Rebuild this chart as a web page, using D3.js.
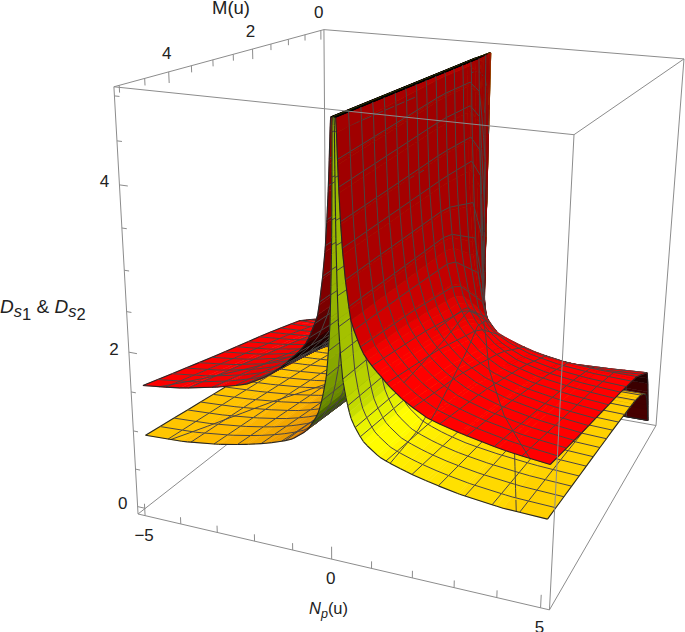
<!DOCTYPE html>
<html>
<head>
<meta charset="utf-8">
<script src="https://cdn.jsdelivr.net/npm/d3@7"></script>
<style>
  body { margin: 0; background: #fff; }
  text { font-family: "Liberation Sans", Arial, sans-serif; fill: #222; }
</style>
</head>
<body>
<svg id="chart" width="685" height="632"></svg>
<script>
// values: height by |Np| (columns) and M (rows)
const npColumns = [0.02, 0.05, 0.1, 0.2, 0.4, 0.7, 1.1, 1.6, 2.2, 3, 4, 5];
const mRows = [0, 0.05, 0.1, 0.2, 0.3, 0.6, 1, 2, 3.5, 5];
const redHeights = [
  [0, 0, 0, 0, 0, 0, 0, 0, 0, 0, 0, 0],
  [1.0, 0.9, 0.8, 0.7, 0.6, 0.5, 0.42, 0.36, 0.3, 0.25, 0.2, 0.18],
  [5.2, 1.8, 1.0, 0.8, 0.7, 0.62, 0.55, 0.48, 0.42, 0.38, 0.36, 0.35],
  [5.4, 3.8, 1.3, 1.0, 0.9, 0.82, 0.76, 0.7, 0.65, 0.64, 0.64, 0.64],
  [5.5, 4.4, 3.5, 1.1, 1.0, 0.95, 0.88, 0.82, 0.8, 0.79, 0.81, 0.84],
  [5.6, 5.2, 4.5, 3.4, 1.5, 1.15, 1.02, 0.98, 0.92, 0.9, 0.9, 0.93],
  [5.6, 5.3, 4.7, 3.7, 2.4, 1.6, 1.35, 1.25, 1.16, 1.09, 1.05, 1.04],
  [5.6, 5.3, 4.7, 3.7, 2.8, 2.2, 1.85, 1.58, 1.4, 1.29, 1.22, 1.18],
  [5.6, 5.3, 4.6, 3.65, 2.8, 2.35, 2.07, 1.84, 1.66, 1.52, 1.42, 1.36],
  [5.6, 5.3, 4.5, 3.6, 2.8, 2.44, 2.22, 2.0, 1.83, 1.72, 1.62, 1.56],
];
const yellowHeights = [
  [0, 0, 0, 0, 0, 0, 0, 0, 0, 0, 0, 0],
  [1.0, 0.7, 0.5, 0.4, 0.32, 0.27, 0.2, 0.16, 0.13, 0.12, 0.11, 0.1],
  [5, 1.6, 0.8, 0.55, 0.45, 0.38, 0.32, 0.28, 0.25, 0.24, 0.23, 0.23],
  [5.2, 3, 1.2, 0.75, 0.6, 0.52, 0.48, 0.45, 0.43, 0.42, 0.42, 0.42],
  [5.3, 3.4, 2.2, 0.95, 0.72, 0.62, 0.57, 0.54, 0.53, 0.52, 0.52, 0.52],
  [5.4, 3.7, 2.7, 2.0, 1.1, 0.82, 0.72, 0.67, 0.65, 0.64, 0.63, 0.63],
  [5.4, 3.7, 2.75, 2.1, 1.45, 1.1, 0.9, 0.8, 0.75, 0.72, 0.7, 0.69],
  [5.4, 3.7, 2.75, 2.1, 1.6, 1.28, 1.07, 0.96, 0.88, 0.82, 0.78, 0.76],
  [5.4, 3.7, 2.75, 2.1, 1.62, 1.33, 1.16, 1.06, 0.98, 0.92, 0.87, 0.84],
  [5.4, 3.7, 2.75, 2.1, 1.65, 1.4, 1.25, 1.16, 1.08, 1.0, 0.94, 0.92],
];
const meshM = [0.3125, 0.625, 0.9375, 1.25, 1.5625, 1.875, 2.1875, 2.5, 2.8125, 3.125, 3.4375, 3.75, 4.0625, 4.375, 4.6875];
const redMeshNp = [0.095, 0.12, 0.16, 0.2, 0.27, 0.35, 0.47, 0.625, 0.9, 1.25, 1.875, 2.5, 3.125, 3.75, 4.375];
const yellowMeshNp = [0.027, 0.035, 0.045, 0.053, 0.065, 0.08, 0.105, 0.145, 0.2, 0.32, 0.5, 0.625, 1.25, 1.875, 2.5, 3.125, 3.75, 4.375];
// the extra crossing curves on the flat parts, as [|Np|, M] knots
const redFanLines = [
  [[4.55, 5], [3.3, 4], [2.1, 2.8], [0.95, 1.4]],
  [[2.3, 5], [1.8, 3.6], [1.35, 2.4], [0.85, 1.1]],
  [[0.95, 3.2], [0.9, 2.4], [0.85, 1.5], [0.75, 0.9]],
  [[1.4, 4.7], [1.2, 3.4], [1.0, 2.4], [0.85, 1.5]],
];
const yellowFanLines = [
  [[4.3, 5], [3.2, 3.4], [2.4, 2.5]],
  [[1.35, 5], [1.2, 4], [0.9, 3]],
];
const npTicks = [-5, -4, -3, -2, -1, 0, 1, 2, 3, 4, 5];
const npLabels = [-5, 0, 5];
const mTicks = [0, 0.5, 1, 1.5, 2, 2.5, 3, 3.5, 4, 4.5, 5];
const mLabels = [0, 2, 4];
const zTicks = [0, 0.5, 1, 1.5, 2, 2.5, 3, 3.5, 4, 4.5, 5];
const zLabels = [0, 2, 4];

const npRange = [-5.2, 5.2];
const mRange = [-0.1, 5.1];
const zRange = [-0.1, 5.1];
const zCap = 5;

const svg = d3.select('#chart');

const uScale = d3.scaleLinear().domain(npRange).range([0, 1]);
const vScale = d3.scaleLinear().domain(mRange).range([0, 1]);
const wScale = d3.scaleLinear().domain(zRange).range([0, 1]);

// the box corners on the page, used to fit the perspective
const cornerFit = [
  [npRange[0], mRange[1], zRange[0], 135, 516],
  [npRange[1], mRange[1], zRange[0], 549, 607],
  [npRange[1], mRange[0], zRange[0], 655, 429],
  [npRange[0], mRange[0], zRange[0], 330, 364],
  [npRange[0], mRange[1], zRange[1], 116, 88],
  [npRange[1], mRange[1], zRange[1], 576, 134],
  [npRange[1], mRange[0], zRange[1], 684, 58],
  [npRange[0], mRange[0], zRange[1], 321, 30],
];

const solve = (A, b) => {
  const n = b.length;
  const M = A.map((row, i) => [...row, b[i]]);
  for (let i = 0; i < n; i++) {
    let p = i;
    for (let k = i + 1; k < n; k++) if (Math.abs(M[k][i]) > Math.abs(M[p][i])) p = k;
    [M[i], M[p]] = [M[p], M[i]];
    for (let k = i + 1; k < n; k++) {
      const f = M[k][i] / M[i][i];
      for (let j = i; j <= n; j++) M[k][j] -= f * M[i][j];
    }
  }
  const x = new Array(n).fill(0);
  for (let i = n - 1; i >= 0; i--) {
    let s = M[i][n];
    for (let j = i + 1; j < n; j++) s -= M[i][j] * x[j];
    x[i] = s / M[i][i];
  }
  return x;
};

const fitProjection = () => {
  const rows = [];
  const rhs = [];
  for (const [np, m, z, sx, sy] of cornerFit) {
    const u = uScale(np), v = vScale(m), w = wScale(z);
    const x = sx / 100, y = sy / 100;
    rows.push([u, v, w, 1, 0, 0, 0, 0, -x * u, -x * v, -x * w]);
    rhs.push(x);
    rows.push([0, 0, 0, 0, u, v, w, 1, -y * u, -y * v, -y * w]);
    rhs.push(y);
  }
  const ata = d3.range(11).map((i) => d3.range(11).map((j) => d3.sum(rows, (r) => r[i] * r[j])));
  const atb = d3.range(11).map((i) => d3.sum(rows, (r, k) => r[i] * rhs[k]));
  return solve(ata, atb);
};
const P = fitProjection();

const project = (np, m, z) => {
  const u = uScale(np), v = vScale(m), w = wScale(z);
  const d = P[8] * u + P[9] * v + P[10] * w + 1;
  return [
    (100 * (P[0] * u + P[1] * v + P[2] * w + P[3])) / d,
    (100 * (P[4] * u + P[5] * v + P[6] * w + P[7])) / d,
    d,
  ];
};

const nearW = project(npRange[1], mRange[1], zRange[1])[2];
const farW = project(npRange[0], mRange[0], zRange[0])[2];
const depthOf = (w) => (w - nearW) / (farW - nearW);

// height lookup, log spaced in |Np|
const logColumns = npColumns.map(Math.log);
const makeHeight = (table) => {
  const rowScales = table.map((r) => d3.scaleLinear().domain(logColumns).range(r).clamp(true));
  const mScale = d3.scaleLinear().domain(mRows);
  return (np, m) => {
    const a = Math.log(Math.max(Math.abs(np), npColumns[0]));
    return Math.min(mScale.range(rowScales.map((s) => s(a)))(m), zCap);
  };
};

const screenArea = (pts) => {
  let a = 0;
  pts.forEach((p, i) => {
    const q = pts[(i + 1) % pts.length];
    a += p[0] * q[1] - q[0] * p[1];
  });
  return a;
};
const upSign = Math.sign(screenArea([
  project(-1, 1, 0), project(1, 1, 0), project(1, 2, 0), project(-1, 2, 0),
]));

const channel = d3.scaleLinear().domain([0, 1]).range([0, 255]).clamp(true);

// empirical lighting, fitted on the flat, steep and wing colours
const shade = (surface, n) => {
  const r = 0.36 + 0.24 * n[0] + 0.1 * n[1] + 0.68 * n[2];
  if (surface === 'red') return `rgb(${channel(r)},0,0)`;
  const g = 0.2 + 0.52 * n[0] + 0.05 * n[1] + 0.6 * n[2];
  return `rgb(${channel(r)},${channel(g)},0)`;
};

const mSamples = d3.sort(new Set([0, 0.02, 0.05, 0.075, 0.1, 0.15, 0.2, 0.25, 0.3, 0.4, 0.5, 0.78, 1, 1.1, 5, ...meshM]));

const buildSurface = (surface, table, meshNp, fanLines, lean) => {
  const height = makeHeight(table);
  const positive = d3.sort(new Set([
    ...d3.range(22).map((i) => 0.02 * Math.pow(250, i / 21)),
    ...npColumns,
    ...meshNp,
  ]));
  const npSamples = [...positive.map((d) => -d).reverse(), ...positive];
  const isMeshNp = new Set(meshNp.flatMap((d) => [d, -d]));
  const isMeshM = new Set(meshM);
  const items = [];

  const addSegment = (a, b, np, border) => {
    const pa = project(...a), pb = project(...b);
    if (a[2] >= zCap && b[2] >= zCap) return;
    items.push({
      kind: 'line',
      pts: [pa, pb],
      depth: depthOf((pa[2] + pb[2]) / 2) - (np > 0 ? lean : -lean) - 0.03,
      stroke: border ? '#262626' : '#4a4442',
      width: border ? 1.1 : 1,
    });
  };

  for (let i = 0; i < npSamples.length - 1; i++) {
    for (let j = 0; j < mSamples.length - 1; j++) {
      const n0 = npSamples[i], n1 = npSamples[i + 1];
      const m0 = mSamples[j], m1 = mSamples[j + 1];
      const c = [[n0, m0], [n1, m0], [n1, m1], [n0, m1]].map(([a, b]) => [a, b, height(a, b)]);
      const pts = c.map((d) => project(...d));
      const mid = (n0 + n1) / 2;
      const d1 = [(c[2][0] - c[0][0]) / 10.4, (c[2][1] - c[0][1]) / 5.2, (c[2][2] - c[0][2]) / 5.2];
      const d2 = [(c[3][0] - c[1][0]) / 10.4, (c[3][1] - c[1][1]) / 5.2, (c[3][2] - c[1][2]) / 5.2];
      let nrm = [
        d1[1] * d2[2] - d1[2] * d2[1],
        d1[2] * d2[0] - d1[0] * d2[2],
        d1[0] * d2[1] - d1[1] * d2[0],
      ];
      const len = Math.hypot(...nrm) || 1;
      nrm = nrm.map((d) => d / len);
      if (screenArea(pts) * upSign < 0) nrm = nrm.map((d) => -d);
      const capped = c.every((d) => d[2] >= zCap);
      const fill = capped ? '#000' : shade(surface, nrm);
      items.push({
        kind: 'patch',
        pts,
        depth: d3.mean(pts, (d) => depthOf(d[2])) - (mid > 0 ? lean : -lean),
        fill,
      });
      if (isMeshM.has(m0) || m0 === 0) addSegment(c[0], c[1], mid, m0 === 0);
      if (m1 === 5) addSegment(c[3], c[2], mid, true);
      if (isMeshNp.has(n0) || n0 === -5) addSegment(c[0], c[3], mid, n0 === -5);
      if (n1 === 5) addSegment(c[1], c[2], mid, true);
    }
  }

  // extra curves, on both wings
  fanLines.forEach((knots) => {
    [1, -1].forEach((side) => {
      d3.pairs(knots).forEach(([a, b]) => {
        const steps = d3.range(7).map((k) => [
          a[0] + ((b[0] - a[0]) * k) / 6,
          a[1] + ((b[1] - a[1]) * k) / 6,
        ]);
        d3.pairs(steps).forEach(([p, q]) => {
          addSegment(
            [side * p[0], p[1], height(p[0], p[1])],
            [side * q[0], q[1], height(q[0], q[1])],
            side,
            false
          );
        });
      });
    });
  });
  return items;
};

const items = [
  ...buildSurface('yellow', yellowHeights, yellowMeshNp, yellowFanLines, 0.02),
  ...buildSurface('red', redHeights, redMeshNp, redFanLines, 0.05),
];
items.sort((a, b) => b.depth - a.depth);

const lineGen = d3.line();

// box edges behind the surfaces
const edge = (a, b) => lineGen([project(...a), project(...b)]);
const [n0, n1] = npRange, [m0, m1] = mRange, [z0, z1] = zRange;
const backEdges = [
  [[n0, m0, z0], [n0, m0, z1]],
  [[n0, m0, z0], [n0, m1, z0]],
  [[n0, m0, z0], [n1, m0, z0]],
];
const frontEdges = [
  [[n0, m0, z1], [n0, m1, z1]],
  [[n0, m0, z1], [n1, m0, z1]],
  [[n0, m1, z0], [n0, m1, z1]],
  [[n1, m0, z0], [n1, m0, z1]],
  [[n1, m1, z0], [n1, m1, z1]],
  [[n0, m1, z1], [n1, m1, z1]],
  [[n1, m0, z1], [n1, m1, z1]],
  [[n0, m1, z0], [n1, m1, z0]],
  [[n1, m0, z0], [n1, m1, z0]],
];
const boxStroke = '#8c8c8c';

svg.append('g').selectAll('path').data(backEdges).join('path')
  .attr('d', (d) => edge(d[0], d[1]))
  .attr('stroke', boxStroke).attr('fill', 'none');

svg.append('g').selectAll('path').data(items).join('path')
  .attr('d', (d) => lineGen(d.pts) + (d.kind === 'patch' ? 'Z' : ''))
  .attr('fill', (d) => (d.kind === 'patch' ? d.fill : 'none'))
  .attr('stroke', (d) => (d.kind === 'patch' ? d.fill : d.stroke))
  .attr('stroke-width', (d) => (d.kind === 'patch' ? 0.5 : d.width));

svg.append('g').selectAll('path').data(frontEdges).join('path')
  .attr('d', (d) => edge(d[0], d[1]))
  .attr('stroke', boxStroke).attr('fill', 'none');

// ticks
const tickG = svg.append('g').attr('stroke', boxStroke).attr('fill', 'none');
tickG.selectAll('.np').data(npTicks).join('path').attr('class', 'np')
  .attr('d', (d) => edge([d, m1, z0], [d, m1, z0 + (npLabels.includes(d) ? 0.16 : 0.09)]));
tickG.selectAll('.m').data(mTicks).join('path').attr('class', 'm')
  .attr('d', (d) => edge([n0, d, z1], [n0, d, z1 - (mLabels.includes(d) ? 0.13 : 0.08)]));
tickG.selectAll('.z').data(zTicks).join('path').attr('class', 'z')
  .attr('d', (d) => edge([n0, m1, d], [n0 + (zLabels.includes(d) ? 0.22 : 0.13), m1, d]));

const tickLabel = (cls, data, anchor, dx, dy, fmt) => {
  svg.selectAll('.' + cls).data(data).join('text').attr('class', cls)
    .attr('x', (d) => anchor(d)[0] + dx)
    .attr('y', (d) => anchor(d)[1] + dy)
    .attr('text-anchor', 'middle')
    .attr('dominant-baseline', 'central')
    .attr('font-size', 17)
    .text(fmt);
};
const minus = (d) => (d < 0 ? '\u2212' + -d : d);
tickLabel('npl', npLabels, (d) => project(d, m1, z0), -1, 19.5, minus);
tickLabel('ml', mLabels, (d) => project(n0, d, z1), -2, -18, (d) => d);
tickLabel('zl', zLabels, (d) => project(n0, m1, d), -15, -3, (d) => d);

// axis titles
svg.append('text').attr('x', 231).attr('y', 14).attr('text-anchor', 'middle')
  .attr('font-size', 18.5).text('M(u)');

const npTitle = svg.append('text').attr('x', 309).attr('y', 614).attr('font-size', 16.5);
npTitle.append('tspan').attr('font-style', 'italic').text('N');
npTitle.append('tspan').attr('font-style', 'italic').attr('font-size', 12.5).attr('dy', 4).text('p');
npTitle.append('tspan').attr('dy', -4).text('(u)');

const dsTitle = svg.append('text').attr('x', 0).attr('y', 313).attr('font-size', 19);
dsTitle.append('tspan').attr('font-style', 'italic').text('D');
dsTitle.append('tspan').attr('font-style', 'italic').attr('font-size', 16.5).attr('dy', 4).text('s');
dsTitle.append('tspan').attr('font-size', 16.5).attr('dy', 3).text('1');
dsTitle.append('tspan').attr('dy', -7).text(' & ');
dsTitle.append('tspan').attr('font-style', 'italic').text('D');
dsTitle.append('tspan').attr('font-style', 'italic').attr('font-size', 16.5).attr('dy', 4).text('s');
dsTitle.append('tspan').attr('font-size', 16.5).attr('dy', 3).text('2');
</script>
</body>
</html>
